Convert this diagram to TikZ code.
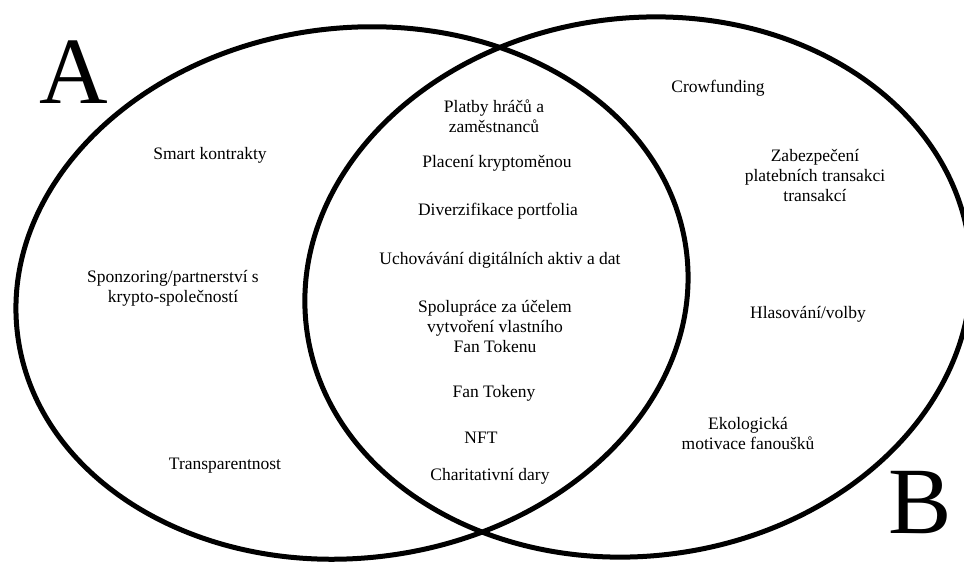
\documentclass[tikz,border=0pt]{standalone}
\usepackage{fontspec}
\setmainfont{Liberation Serif}
\begin{document}
\begin{tikzpicture}[x=1pt,y=-1pt,
  ring/.style={line width=5pt, draw=black},
  lbl/.style={align=center, inner sep=0pt, font=\fontsize{17.5}{20}\selectfont},
  big/.style={inner sep=0pt, font=\fontsize{95}{95}\selectfont}]
\useasboundingbox (0,0) rectangle (964,562);
% sets
\coordinate (ca) at (352,293);
\coordinate (cb) at (638,287);
\draw[ring, rotate around={7:(ca)}] (ca) ellipse [x radius=337pt, y radius=265pt];
\draw[ring, rotate around={7:(cb)}] (cb) ellipse [x radius=334pt, y radius=269pt];
% set labels
\node[big] (la) at (74,72) {A};
\node[big] (lb) at (920,503) {B};
% A only
\node[lbl] (a1) at (210,155) {Smart kontrakty};
\node[lbl] (a2) at (173,288) {Sponzoring/partnerství s\\krypto-společností};
\node[lbl] (a3) at (225,466) {Transparentnost};
% intersection
\node[lbl] (c1) at (494,116) {Platby hráčů a\\zaměstnanců};
\node[lbl] (c2) at (497,163) {Placení kryptoměnou};
\node[lbl] (c3) at (498,211) {Diverzifikace portfolia};
\node[lbl] (c4) at (500,260) {Uchovávání digitálních aktiv a dat};
\node[lbl] (c5) at (495,326) {Spolupráce za účelem\\vytvoření vlastního\\Fan Tokenu};
\node[lbl] (c6) at (494,393) {Fan Tokeny};
\node[lbl] (c7) at (481,438) {NFT};
\node[lbl] (c8) at (490,476) {Charitativní dary};
% B only
\node[lbl] (b1) at (718,88) {Crowfunding};
\node[lbl] (b2) at (815,175) {Zabezpečení\\platebních transakci\\transakcí};
\node[lbl] (b3) at (808,314) {Hlasování/volby};
\node[lbl] (b4) at (748,433) {Ekologická\\motivace fanoušků};
\end{tikzpicture}
\end{document}
